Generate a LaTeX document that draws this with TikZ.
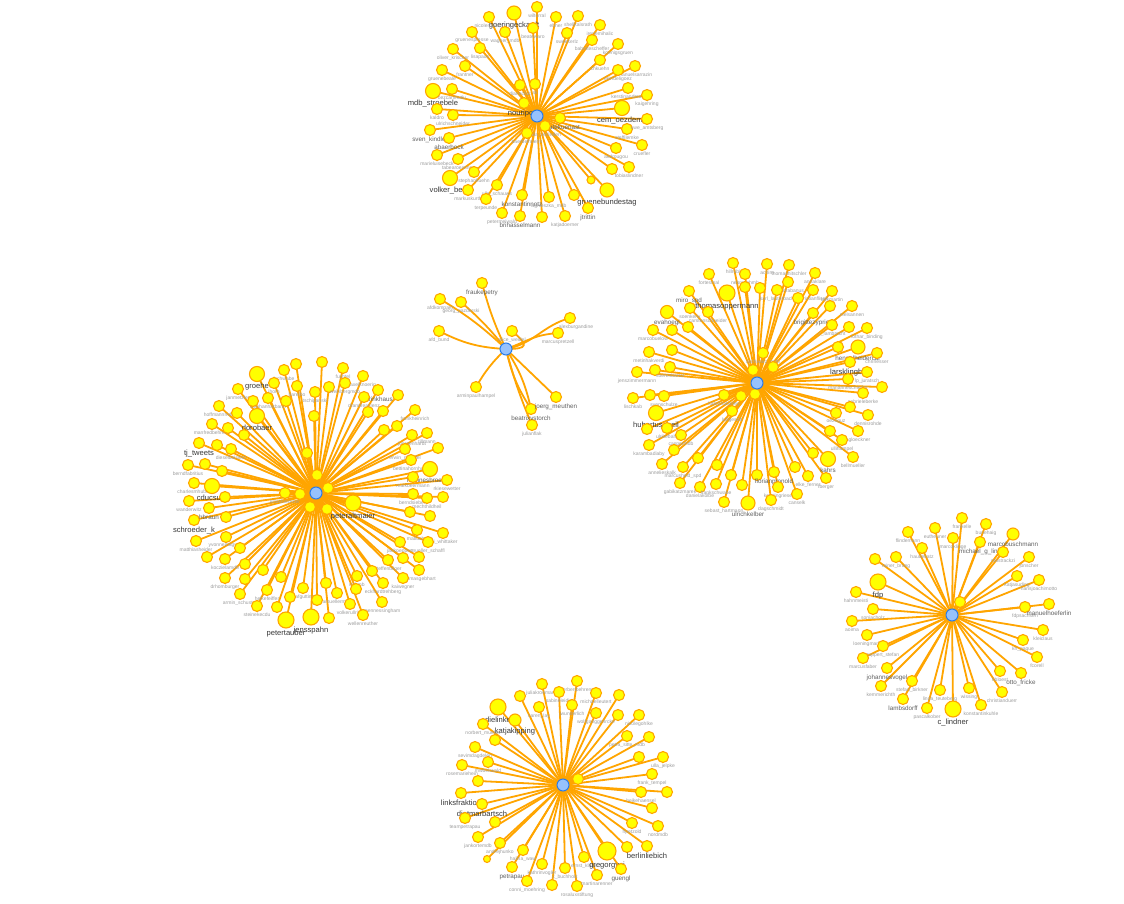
\documentclass[tikz,border=0pt]{standalone}
\usepackage{fontspec}
\setmainfont{Liberation Sans}
\definecolor{vyel}{HTML}{FFFF00}
\definecolor{vorg}{HTML}{FFA500}
\definecolor{vblue}{HTML}{97C2FC}
\definecolor{vbluedk}{HTML}{2B7CE9}
\tikzset{
  leaf/.style={circle, fill=vyel, draw=vorg, line width=1.1pt, inner sep=0pt, minimum size=#1},
  leaf/.default=11pt,
  hubnode/.style={circle, fill=vblue, draw=vbluedk, line width=1pt, inner sep=0pt, minimum size=12pt},
  edge/.style={draw=vorg, line width=1.8pt},
  lg/.style={font=\fontsize{5}{5}\selectfont, text=black!38, inner sep=0.4pt},
  lm/.style={font=\fontsize{6.3}{6.3}\selectfont, text=black!62, inner sep=0.4pt},
  ld/.style={font=\fontsize{7.6}{7.6}\selectfont, text=black!78, inner sep=0.4pt},
}
% #1 hub name, #2 hub position, #3 list x/y/size/label/style
\newcommand\drawcluster[3]{%
  \coordinate (#1) at #2;
  \foreach \x/\y/\s/\t/\k [count=\i] in {#3} {
    \coordinate (#1p\i) at (\x,\y);
    \draw[edge] (#1) -- (#1p\i);
  }
  \foreach \x/\y/\s/\t/\k [count=\i] in {#3} {
    \node[leaf=\s] (#1n\i) at (#1p\i) {};
    \node[\k, anchor=north] (#1l\i) at ([yshift=-0.4pt]#1n\i.south) {\t};
  }
  \node[hubnode] (#1h) at (#1) {};
}
\begin{document}
\begin{tikzpicture}[x=1pt,y=-1pt]
\useasboundingbox (0,0) rectangle (1124,904);
\fill[white] (0,0) rectangle (1124,904);

% ---------------- top cluster
\drawcluster{T}{(537,116)}{537/7/11pt/wiltorral/lg,
514/13/14pt/goeringeckardt/ld,
489/17/11pt/nicolemaisch/lg,
556/17/11pt/ebner/lg,
578/16/11pt/shellkalsrath/lg,
600/25/11pt/irenemihalic/lg,
472/32/11pt/gruenespresse/lg,
505/32/11pt/wagner\_mdb/lg,
533/28/11pt/beatewaro/lg,
567/33/11pt/sweekerlz/lg,
592/40/11pt/babettescheffer/lg,
618/44/11pt/koenigsgruen/lg,
453/49/11pt/oliver\_krischer/lg,
480/48/11pt/lisapaus/lg,
600/60/11pt/chkuehn/lg,
442/70/11pt/gruenebeale/lg,
465/66/11pt/frantner/lg,
635/66/11pt/manuelsarrazin/lg,
618/70/11pt/ekindeligoez/lg,
433/91/15pt/mdb\_stroebele/ld,
452/89/11pt/oezcanmutlu/lg,
520/85/11pt/dianeckut/lg,
535/84/11pt/sk/lg,
628/88/11pt/kerstinandreae/lg,
647/95/11pt/kaigehring/lg,
622/108/15pt/cem\_oezdemir/ld,
437/109/11pt/kaldro/lg,
453/115/11pt/ulrichschneider/lg,
524/103/11pt/nouripour/ld,
560/118/11pt/renatekuenast/lm,
430/130/11pt/sven\_kindler/lm,
449/138/11pt/abaerbock/lm,
437/155/11pt/marieluisebeck/lg,
458/159/11pt/tabearoessner/lg,
450/178/15pt/volker\_beck/ld,
474/172/11pt/stephankuehn/lg,
468/190/11pt/markuskurth/lg,
497/185/11pt/ulle\_schauws/lg,
486/199/11pt/terpeunde/lg,
522/195/11pt/konstantinnotz/lm,
549/197/11pt/agnieszka\_mdb/lg,
574/195/11pt//lg,
591/180/8pt//lg,
607/190/14pt/gruenebundestag/ld,
612/169/11pt//lg,
629/167/11pt/tobiaslindner/lg,
616/148/11pt/akdrougou/lg,
642/145/11pt/cruefler/lg,
627/129/11pt/steffilemke/lg,
647/119/11pt/uwe\_amtsberg/lg,
545/126/11pt/julia\_verlinden/lg,
527/133/11pt/baerbelhoehn/lg,
502/213/11pt/petermeiwald/lg,
520/216/11pt/brihasselmann/lm,
542/217/11pt//lg,
565/216/11pt/katjadoerner/lg,
588/208/11pt/jtrittin/lm}

% ---------------- middle small cluster
\coordinate (M) at (506,349);
\coordinate (mp1) at (482,283);
\coordinate (mp2) at (440,299);
\coordinate (mp3) at (461,302);
\coordinate (mp4) at (439,331);
\coordinate (mp5) at (512,331);
\coordinate (mp6) at (570,318);
\coordinate (mp7) at (558,333);
\coordinate (mp8) at (476,387);
\coordinate (mp9) at (556,397);
\coordinate (mp10) at (531,409);
\coordinate (mp11) at (532,425);
\draw[edge] (M) to[bend left=5] (mp1);
\draw[edge] (M) to[bend right=6] (mp2);
\draw[edge] (M) to[bend right=5] (mp3);
\draw[edge] (M) to[bend left=12] (mp4);
\draw[edge] (M) to[out=0,in=-40,looseness=3] (mp5);
\draw[edge] (M) to[out=10,in=195] (mp6);
\draw[edge] (M) to[out=20,in=185,looseness=1.2] (mp7);
\draw[edge] (M) to[bend right=8] (mp8);
\draw[edge] (M) -- (mp9);
\draw[edge] (M) to[bend left=10] (mp10);
\draw[edge] (M) to[bend right=10] (mp10);
\draw[edge] (M) to[bend right=4] (mp11);
\foreach \i in {1,...,11} { \node[leaf] (mn\i) at (mp\i) {}; }
\node[hubnode] (Mh) at (M) {};
\node[lm,anchor=north] (ml1) at (mn1.south) {fraukepetry};
\node[lg,anchor=north] (ml2) at (mn2.south) {afdkompakt};
\node[lg,anchor=north] (ml3) at (mn3.south) {georg\_pazderski};
\node[lg,anchor=north] (ml4) at (mn4.south) {afd\_bund};
\node[lg,anchor=north] (ml5) at (mn5.south) {alice\_weidel};
\node[lg,anchor=north] (ml6) at ([xshift=6pt]mn6.south) {alexburgandine};
\node[lg,anchor=north] (ml7) at (mn7.south) {marcuspretzell};
\node[lg,anchor=north] (ml8) at (mn8.south) {arminpaulhampel};
\node[lm,anchor=north] (ml9) at (mn9.south) {joerg\_meuthen};
\node[lm,anchor=north] (ml10) at (mn10.south) {beatrixvstorch};
\node[lg,anchor=north] (ml11) at (mn11.south) {julianflak};

% ---------------- right-middle cluster
\drawcluster{R}{(757,383)}{733/263/11pt/hillrubi/lg,
767/264/11pt/achim/lg,
789/265/11pt/thomashitschler/lg,
709/274/11pt/fortesmal/lg,
745/274/11pt/nebrasehmh/lg,
815/273/11pt/annaklare/lg,
788/282/11pt/martinrabanus/lg,
689/291/11pt/miro\_spd/lm,
727/293/16pt/thomasoppermann/ld,
745/287/11pt//lg,
760/288/11pt//lg,
777/290/11pt/karl\_lauterbach/lg,
813/290/11pt/christianflisek/lg,
832/291/11pt/larsmartin/lg,
798/298/11pt//lg,
690/308/11pt/soenkerix/lg,
708/312/11pt/carstenschneider/lg,
667/312/13pt/evahoegl/lm,
813/313/11pt/brigittezypries/lm,
830/306/11pt//lg,
852/306/11pt/nielsannen/lg,
653/330/11pt/marcobuelow/lg,
672/330/11pt//lg,
688/327/11pt//lg,
832/325/11pt/c\_lambrecht/lg,
849/327/11pt//lg,
867/328/11pt/lothar\_binding/lg,
649/352/11pt/metinhakverdi/lg,
672/350/11pt//lg,
838/347/11pt//lg,
858/347/14pt/hennelheidercar/lm,
877/353/11pt/chrinesser/lg,
850/362/11pt/larsklingbeil/ld,
763/353/11pt/aschwarz\_mdb/lg,
753/370/11pt//lg,
773/367/11pt//lg,
637/372/11pt/jenszimmermann/lg,
655/370/11pt//lg,
670/367/11pt/soerenbartol/lg,
867/372/11pt/lp\_juratsch/lg,
848/379/11pt/marianneschieder/lg,
882/387/11pt//lg,
863/393/11pt/gabrieleberke/lg,
633/398/11pt/lischkab/lg,
650/395/11pt//lg,
664/396/11pt/svenschulze/lg,
656/413/15pt/hubertus\_heil/ld,
724/395/11pt/katarinabarley/lg,
741/396/11pt//lg,
755/394/11pt//lg,
732/411/11pt/langesolt/lg,
836/413/11pt/oezoguz/lg,
850/407/11pt//lg,
868/415/11pt/dennisrohde/lg,
647/429/11pt//lg,
667/428/11pt/ulrikebahr/lg,
681/435/11pt/caspermdb/lg,
649/445/11pt/karambadiaby/lg,
674/450/11pt//lg,
830/431/11pt//lg,
858/431/11pt/agloeckner/lg,
842/440/11pt/ullihampel/lg,
813/453/11pt//lg,
828/459/15pt/kahrs/lm,
853/457/11pt/bellmueller/lg,
698/458/11pt//lg,
662/464/11pt/annelieskalk/lg,
683/467/11pt/marcusheld\_spd/lg,
717/465/11pt//lg,
795/467/11pt//lg,
808/476/11pt/elke\_ferner/lg,
826/478/11pt/rberger/lg,
731/475/11pt//lg,
757/475/11pt//lg,
774/472/11pt/florianpronold/lm,
680/483/11pt/gabikatzmarek/lg,
700/487/11pt/danielakolbe/lg,
716/484/11pt/frankschwabe/lg,
742/485/11pt//lg,
778/487/11pt/kerstingriese/lg,
797/494/11pt/canselk/lg,
724/502/11pt/sebast\_hartmann/lg,
748/503/14pt/ulrichkelber/lm,
771/500/11pt/dagschmidt/lg}

% ---------------- left cluster
\drawcluster{L}{(316,493)}{322/362/11pt//lg,
296/364/11pt//lg,
343/368/11pt/fuchtel/lg,
284/370/11pt/lschwabe/lg,
363/376/11pt/axelknoerig/lg,
257/374/15pt/groehe/ld,
274/383/11pt/jhorn/lg,
297/386/11pt/barelbo/lg,
329/387/11pt//lg,
345/383/11pt/weinbergmdb/lg,
378/390/11pt/rbrinkhaus/lm,
398/395/11pt//lg,
238/389/11pt/janmetzler/lg,
268/398/11pt/stephanharbarth/lg,
286/401/11pt//lg,
315/392/11pt/tschipanski/lg,
364/397/11pt/drandreaslenz/lg,
219/406/11pt/hoffmannmdb/lg,
253/401/11pt//lg,
383/411/11pt//lg,
368/412/11pt//lg,
415/410/11pt/frankheinrich/lg,
237/413/11pt//lg,
257/416/15pt/dorobaer/ld,
314/416/11pt//lg,
212/424/11pt/manfredbehrens/lg,
228/428/11pt//lg,
244/435/11pt//lg,
384/430/11pt//lg,
397/426/11pt//lg,
412/435/11pt/juergenhardt/lg,
427/433/11pt/tillmann/lg,
199/443/11pt/tj\_tweets/ld,
217/445/11pt//lg,
231/449/11pt/dieselbalsiem/lg,
405/449/11pt/erwin\_rueddel/lg,
438/448/11pt//lg,
307/453/11pt//lg,
188/465/11pt/berndfabritius/lg,
205/464/11pt//lg,
222/471/11pt//lg,
411/460/11pt/bettinahornhues/lg,
430/469/15pt/nadinesbroemer/lm,
317/475/11pt//lg,
194/483/11pt/charlesmhuber/lg,
212/486/15pt/cducsubt/ld,
413/477/11pt/maikbeermann/lg,
447/480/11pt/rkiesewetter/lg,
285/493/11pt/juliakloeckner/lg,
300/494/11pt//lg,
328/488/11pt//lg,
413/494/11pt/berndsiebert/lg,
427/498/11pt/mechthildheil/lg,
443/497/11pt//lg,
189/501/11pt/wanderwitz/lg,
209/508/11pt/hbraun/lm,
225/497/11pt//lg,
194/520/11pt/schroeder\_k/ld,
226/517/11pt//lg,
310/507/11pt//lg,
327/509/11pt//lg,
353/503/16pt/peteraltmaier/ld,
410/512/11pt//lg,
430/516/11pt//lg,
417/530/11pt/matlucha/lg,
443/533/11pt/kai\_whittaker/lg,
400/542/11pt/jankoeppen/lg,
428/542/11pt/mueller\_schaffl/lg,
196/541/11pt/matthiasheider/lg,
226/537/11pt/yvonnemagwas/lg,
240/548/11pt//lg,
207/557/11pt//lg,
225/559/11pt/koczielamdb/lg,
245/564/11pt//lg,
388/560/11pt/steffenbilger/lg,
403/558/11pt//lg,
419/557/11pt//lg,
419/570/11pt/thomasgebhart/lg,
372/571/11pt//lg,
403/578/11pt/kaiwegner/lg,
225/578/11pt/drhomburger/lg,
245/579/11pt//lg,
263/570/11pt//lg,
281/577/11pt//lg,
357/576/11pt/nahmb/lg,
383/583/11pt/eckhardtrehberg/lg,
326/583/11pt//lg,
240/594/11pt/armin\_schuster/lg,
267/590/11pt/heikefeiffer/lg,
303/588/11pt/olafgutting/lg,
337/593/11pt/amuellermdb/lg,
356/589/11pt//lg,
290/597/11pt//lg,
317/600/11pt//lg,
350/604/11pt/volkerullrich/lg,
382/602/11pt/mennessingham/lg,
257/606/11pt/steinekecdu/lg,
277/607/11pt//lg,
286/620/16pt/petertauber/ld,
311/617/16pt/jensspahn/ld,
329/618/11pt//lg,
363/615/11pt/wellenreuther/lg}

% ---------------- right cluster
\drawcluster{F}{(952,615)}{962/518/11pt/frankelle/lg,
935/528/11pt/eutheuner/lg,
986/524/11pt/bunehaig/lg,
908/532/11pt/flindemann/lg,
1013/534/12pt/marcobuschmann/lm,
953/538/11pt/marcoklinge/lg,
980/542/11pt/michael\_g\_link/lm,
922/548/11pt/haudekatz/lg,
1003/552/11pt/mastrackzi/lg,
875/559/11pt//lg,
896/557/11pt/rainer\_brueg/lg,
1029/557/11pt/jonscher/lg,
878/582/16pt/fdp/ld,
1017/576/11pt/katjasuding/lg,
1039/580/11pt/hansjoachimotto/lg,
856/592/11pt/hahnmeisti/lg,
873/609/11pt/soniacholz/lg,
960/602/11pt//lg,
1025/607/11pt/fdpsachsen/lg,
1049/604/11pt/manuelhoeferlin/lm,
852/621/11pt/aoima/lg,
867/635/11pt/loeningmark/lg,
883/646/11pt/ruppert\_stefan/lg,
863/658/11pt/marcusfaber/lg,
887/668/11pt/johannesvogel/lm,
881/686/11pt/kemmerichth/lg,
912/681/11pt/stefan\_birkner/lg,
903/699/11pt/lambsdorff/lm,
927/708/11pt/pascalkober/lg,
940/690/11pt/linda\_teuteberg/lg,
953/709/16pt/c\_lindner/ld,
969/688/11pt/wissing/lg,
981/705/11pt/konstantinkuhle/lg,
1000/671/11pt/hbloest/lg,
1002/692/11pt/christianduerr/lg,
1021/673/11pt/otto\_fricke/lm,
1023/640/11pt/kh\_paque/lg,
1037/657/11pt/fcorell/lg,
1043/630/11pt/kleiclaus/lg}

% ---------------- bottom cluster
\drawcluster{B}{(563,785)}{577/681/11pt/herbertbehrens/lg,
542/684/11pt/juliakroemann/lg,
559/692/11pt/sabineleidig/lg,
596/693/11pt/michaelleutert/lg,
619/695/11pt//lg,
520/696/11pt//lg,
498/707/16pt/dielinke/ld,
539/707/11pt/caren\_lay/lg,
572/705/11pt/jwunderlich/lg,
596/713/11pt/wolfganggehrcke/lg,
618/715/11pt//lg,
639/715/11pt/nicolegohlke/lg,
515/720/12pt/katjakipping/ld,
483/724/11pt/norbert\_mueller/lg,
627/736/11pt/petra\_sitte\_mdb/lg,
649/737/11pt//lg,
495/740/11pt//lg,
475/747/11pt/sevimdagdelen/lg,
639/757/11pt//lg,
663/757/11pt/ulla\_jelpke/lg,
488/762/11pt/mwbirkwald/lg,
462/765/11pt/rosemariehein/lg,
578/779/11pt//lg,
652/774/11pt/frank\_tempel/lg,
478/781/11pt//lg,
461/793/11pt/linksfraktion/ld,
482/804/11pt/dietmarbartsch/ld,
465/818/11pt/teampetrapau/lg,
495/822/11pt//lg,
478/837/11pt/jankortemdb/lg,
500/843/11pt/andrejhunko/lg,
487/859/7pt//lg,
523/850/11pt/halina\_waw/lg,
512/867/11pt/petrapau/lm,
542/864/11pt/kathrinvogler/lg,
527/881/11pt/conni\_moehring/lg,
552/885/11pt//lg,
565/868/11pt/c\_buchholz/lg,
577/886/11pt/rosaluxstiftung/lg,
584/857/11pt/ernst\_klaus/lg,
597/875/11pt/martinarenner/lg,
607/851/18pt/gregorgysi/ld,
621/869/11pt/guengl/lm,
627/847/11pt//lg,
647/846/11pt/berlinliebich/ld,
632/823/11pt/hpetzold/lg,
658/826/11pt/nordmdb/lg,
652/808/11pt//lg,
641/792/11pt/heikehaensel/lg,
667/792/11pt//lg}
\end{tikzpicture}
\end{document}
